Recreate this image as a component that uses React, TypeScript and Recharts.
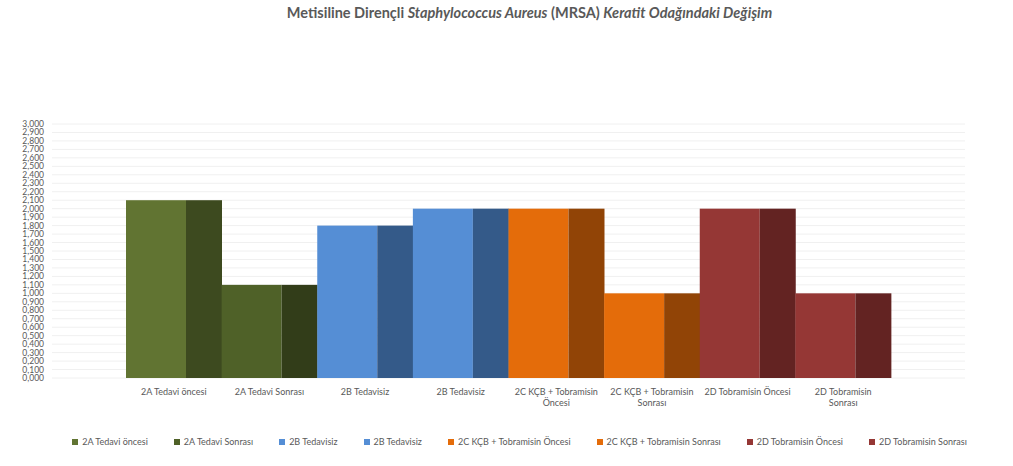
import { BarChart, Bar, XAxis, YAxis, CartesianGrid, Legend, Text } from 'recharts';

const categories = [
  '2A Tedavi öncesi',
  '2A Tedavi Sonrası',
  '2B Tedavisiz',
  '2B Tedavisiz',
  '2C KÇB + Tobramisin Öncesi',
  '2C KÇB + Tobramisin Sonrası',
  '2D Tobramisin Öncesi',
  '2D Tobramisin Sonrası',
];

const keratitValues = [2.1, 1.1, 1.8, 2.0, 2.0, 1.0, 2.0, 1.0];

const yTicks = [
  0, 0.1, 0.2, 0.3, 0.4, 0.5, 0.6, 0.7, 0.8, 0.9, 1.0,
  1.1, 1.2, 1.3, 1.4, 1.5, 1.6, 1.7, 1.8, 1.9, 2.0,
  2.1, 2.2, 2.3, 2.4, 2.5, 2.6, 2.7, 2.8, 2.9, 3.0,
];

// ön yüz / yan yüz renkleri (Excel 3B sütun görünümü)
const frontColors = ['#617432', '#4f6128', '#558ed5', '#558ed5', '#e46c0a', '#e46c0a', '#953735', '#953735'];
const sideColors = ['#3d4a1f', '#323d19', '#345a89', '#345a89', '#914406', '#914406', '#632322', '#632322'];

const FONT = 'Lato, "Open Sans", sans-serif';
const TEXT = '#595959';

const data = categories.map((c, i) => ({
  name: c,
  value: keratitValues[i],
  front: frontColors[i],
  side: sideColors[i],
}));

function fmt(v: number) {
  return v.toFixed(3).replace('.', ',');
}

function Bar3D(props: any) {
  const { x, y, width, height, payload } = props;
  if (!height) return null;
  const fw = width * 0.625;
  return (
    <g>
      <rect x={x} y={y} width={fw} height={height} fill={payload.front} />
      <rect x={x + fw} y={y} width={width - fw} height={height} fill={payload.side} />
    </g>
  );
}

function CatTick(props: any) {
  const { x, y, payload } = props;
  const label: string = payload.value;
  let lines = [label];
  if (label.length > 20) {
    const cut = label.lastIndexOf(' ');
    lines = [label.slice(0, cut), label.slice(cut + 1)];
  }
  return (
    <g>
      {lines.map((l, i) => (
        <Text key={i} x={x} y={y + 3 + i * 11} textAnchor="middle" verticalAnchor="start"
          fontSize={9} fill={TEXT} fontFamily={FONT}>
          {l}
        </Text>
      ))}
    </g>
  );
}

function LegendContent() {
  return (
    <div style={{ display: 'flex', justifyContent: 'center', paddingLeft: 26, fontFamily: FONT, fontSize: 9, color: TEXT }}>
      {categories.map((c, i) => (
        <div key={i} style={{ display: 'flex', alignItems: 'center', marginRight: i < categories.length - 1 ? 26 : 0 }}>
          <span style={{ width: 6, height: 6, background: frontColors[i], marginRight: 4, display: 'inline-block' }} />
          <span>{c}</span>
        </div>
      ))}
    </div>
  );
}

export default function App() {
  return (
    <div style={{ position: 'absolute', left: 0, top: 0, width: 1013, height: 466, background: '#fff' }}>
      <div style={{
        position: 'absolute', top: 4, left: 23, width: 1013, textAlign: 'center',
        fontFamily: FONT, fontSize: 14.5, fontWeight: 700, color: TEXT,
      }}>
        Metisiline Dirençli <i>Staphylococcus Aureus</i> (MRSA) <i>Keratit Odağındaki Değişim</i>
      </div>
      <BarChart width={1013} height={466} data={data}
        margin={{ top: 124, right: 48, left: 0, bottom: 47 }}
        barCategoryGap={0}>
        <CartesianGrid vertical={false} stroke="#f0f0f0" />
        <XAxis dataKey="name" tick={<CatTick />} tickLine={false} axisLine={false}
          interval={0} height={30} padding={{ left: 74, right: 74 }} />
        <YAxis domain={[0, 3]} ticks={yTicks} interval={0} tickFormatter={fmt}
          tickLine={false} axisLine={false} width={52} tickSize={0} tickMargin={8}
          tick={{ fontSize: 8.5, fill: TEXT, fontFamily: FONT }} />
        <Legend verticalAlign="bottom" content={<LegendContent />}
          wrapperStyle={{ position: 'absolute', top: 436, left: 0, width: 1013 }} />
        <Bar dataKey="value" shape={<Bar3D />} isAnimationActive={false} />
      </BarChart>
    </div>
  );
}
